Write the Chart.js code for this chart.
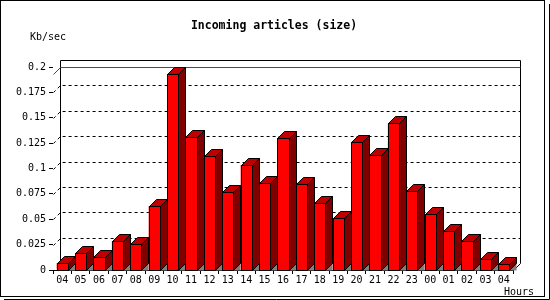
<!DOCTYPE html>
<html>
<head>
<meta charset="utf-8">
<script src="https://cdn.jsdelivr.net/npm/chart.js@4"></script>
<style>
  body { margin: 0; background: #fff; }
  #wrap { width: 550px; height: 300px; }
</style>
</head>
<body>
<div id="wrap"><canvas id="chart__size-canvas" width="550" height="300"></canvas></div>
<script>
const hours = ["04", "05", "06", "07", "08", "09", "10", "11", "12", "13", "14", "15",
  "16", "17", "18", "19", "20", "21", "22", "23", "00", "01", "02", "03", "04"];
const sizes = [0.0066, 0.0164, 0.0125, 0.0286, 0.026, 0.063, 0.193, 0.131, 0.112,
  0.0765, 0.1034, 0.0854, 0.13, 0.0847, 0.0657, 0.051, 0.1258, 0.113, 0.1445,
  0.0775, 0.0549, 0.038, 0.0283, 0.0105, 0.0056];
const yTicks = ["0", "0.025", "0.05", "0.075", "0.1", "0.125", "0.15", "0.175", "0.2"];

const depth = 7;
const mono = "DejaVu Sans Mono";

// draws the back wall, the max line and the 3d faces of every bar
const bars3d = {
  id: "bars3d",
  beforeDatasetsDraw(chart) {
    const ctx = chart.ctx;
    const { left, right, top, bottom } = chart.chartArea;
    const y = chart.scales.y;
    const L = Math.round(left) + 0.5, R = Math.round(right) + 0.5;
    const T = Math.round(top) + 0.5, B = Math.round(bottom) + 0.5;
    ctx.save();
    ctx.lineWidth = 1;
    ctx.strokeStyle = "#000";
    // dashed grid on the back wall
    ctx.setLineDash([3, 3]);
    y.ticks.forEach((t, i) => {
      if (i === 0 || i === y.ticks.length - 1) return;
      const yy = Math.round(y.getPixelForValue(t.value)) + 0.5;
      ctx.beginPath();
      ctx.moveTo(L, yy);
      ctx.lineTo(L + depth, yy - depth);
      ctx.lineTo(R + depth, yy - depth);
      ctx.stroke();
    });
    ctx.setLineDash([]);
    // wall frame
    ctx.beginPath();
    ctx.moveTo(L + depth, B);
    ctx.lineTo(L + depth, T - depth);
    ctx.lineTo(R + depth, T - depth);
    ctx.lineTo(R + depth, B - depth);
    ctx.lineTo(R, B);
    ctx.stroke();
    // max value line
    const ym = Math.round(y.getPixelForValue(Math.max(...sizes))) + 0.5;
    ctx.strokeStyle = "#f00";
    ctx.beginPath();
    ctx.moveTo(L, ym);
    ctx.lineTo(L + depth, ym - depth);
    ctx.lineTo(R + depth, ym - depth);
    ctx.stroke();
    ctx.restore();
  },
  afterDatasetsDraw(chart) {
    const ctx = chart.ctx;
    const meta = chart.getDatasetMeta(0);
    ctx.save();
    ctx.lineWidth = 1;
    ctx.strokeStyle = "#000";
    meta.data.forEach((bar) => {
      const p = bar.getProps(["x", "y", "base", "width"], true);
      const x0 = Math.round(p.x - p.width / 2) + 0.5;
      const x1 = Math.round(p.x + p.width / 2) + 0.5;
      const yt = Math.round(p.y) + 0.5;
      const yb = Math.round(p.base) + 0.5;
      // shadow on the floor
      ctx.fillStyle = "#808080";
      ctx.beginPath();
      ctx.moveTo(x1, yb);
      ctx.lineTo(x1 + depth, yb - depth);
      ctx.lineTo(x1 + depth, yb);
      ctx.closePath();
      ctx.fill();
      // top
      ctx.fillStyle = "#c00000";
      ctx.beginPath();
      ctx.moveTo(x0, yt);
      ctx.lineTo(x0 + depth, yt - depth);
      ctx.lineTo(x1 + depth, yt - depth);
      ctx.lineTo(x1, yt);
      ctx.closePath();
      ctx.fill();
      ctx.stroke();
      // side
      ctx.fillStyle = "#800000";
      ctx.beginPath();
      ctx.moveTo(x1, yt);
      ctx.lineTo(x1 + depth, yt - depth);
      ctx.lineTo(x1 + depth, yb - depth);
      ctx.lineTo(x1, yb);
      ctx.closePath();
      ctx.fill();
      ctx.stroke();
      // front
      ctx.fillStyle = "#ff0000";
      ctx.fillRect(x0, yt, x1 - x0, yb - yt);
      ctx.strokeRect(x0, yt, x1 - x0, yb - yt);
    });
    ctx.restore();
  },
  afterDraw(chart) {
    const ctx = chart.ctx;
    ctx.save();
    ctx.fillStyle = "#000";
    ctx.textBaseline = "middle";
    ctx.textAlign = "center";
    ctx.font = "bold 11.5px '" + mono + "'";
    ctx.fillText("Incoming articles (size)", 274, 26);
    ctx.font = "10px '" + mono + "'";
    ctx.textAlign = "left";
    ctx.fillText("Kb/sec", 30, 37);
    ctx.textAlign = "right";
    ctx.fillText("Hours", 534, 292);
    // frame round the picture
    ctx.strokeStyle = "#000";
    ctx.lineWidth = 1;
    ctx.strokeRect(0.5, 0.5, 544, 296);
    ctx.beginPath();
    ctx.moveTo(549.5, 4);
    ctx.lineTo(549.5, 299.5);
    ctx.lineTo(4, 299.5);
    ctx.stroke();
    ctx.restore();
  },
};

new Chart(document.getElementById("chart__size-canvas"), {
  type: "bar",
  data: {
    labels: hours,
    datasets: [
      {
        label: "Kb/sec",
        data: sizes,
        backgroundColor: "#ff0000",
        borderWidth: 0,
        barPercentage: 0.6,
        categoryPercentage: 1,
      },
    ],
  },
  options: {
    responsive: false,
    animation: false,
    layout: { padding: { left: 0, right: 37, top: 67, bottom: 0 } },
    plugins: {
      legend: { display: false },
      tooltip: { enabled: false },
      title: { display: false },
    },
    scales: {
      x: {
        afterFit: (s) => { s.height = 30; },
        grid: { display: true, drawOnChartArea: false, tickLength: 4, color: "#000" },
        border: { display: true, color: "#000" },
        ticks: { color: "#000", font: { family: mono, size: 10 }, padding: 0, maxRotation: 0, autoSkip: false },
      },
      y: {
        min: 0,
        max: 0.2,
        afterFit: (s) => { s.width = 53; },
        grid: { display: true, drawOnChartArea: false, tickLength: 4, color: "#000" },
        border: { display: false },
        ticks: {
          stepSize: 0.025,
          color: "#000",
          font: { family: mono, size: 10 },
          padding: 3,
          callback: (v, i) => yTicks[i],
        },
      },
    },
  },
  plugins: [bars3d],
});
</script>
</body>
</html>
